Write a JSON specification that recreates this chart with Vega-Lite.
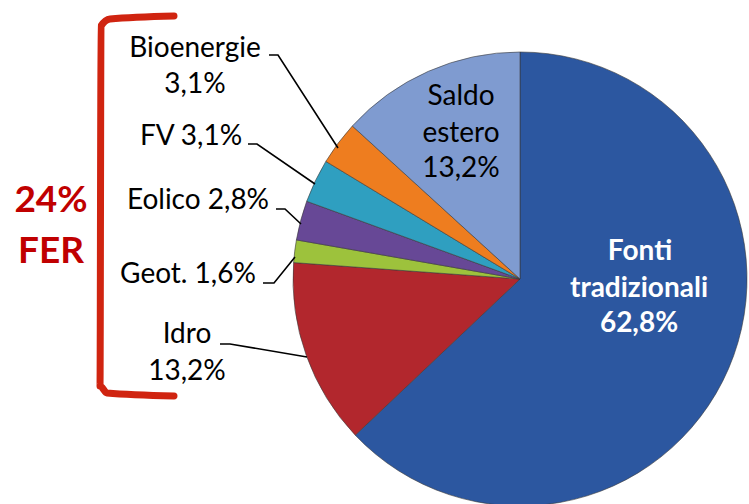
{
  "$schema": "https://vega.github.io/schema/vega-lite/v6.json",
  "width": 749,
  "height": 504,
  "padding": 0,
  "autosize": {"type": "none"},
  "background": "white",
  "config": {"view": {"stroke": null}, "font": "Lato"},
  "datasets": {
    "slices": [
      {"name": "Fonti tradizionali", "value": 62.8, "ord": 1},
      {"name": "Idro", "value": 13.2, "ord": 2},
      {"name": "Geot.", "value": 1.6, "ord": 3},
      {"name": "Eolico", "value": 2.8, "ord": 4},
      {"name": "FV", "value": 3.1, "ord": 5},
      {"name": "Bioenergie", "value": 3.1, "ord": 6},
      {"name": "Saldo estero", "value": 13.2, "ord": 7}
    ],
    "leaders": [
      {"id": "Bioenergie", "seq": 1, "x": 269, "y": 55},
      {"id": "Bioenergie", "seq": 2, "x": 278, "y": 55},
      {"id": "Bioenergie", "seq": 3, "x": 338, "y": 148},
      {"id": "FV", "seq": 1, "x": 248, "y": 144},
      {"id": "FV", "seq": 2, "x": 257, "y": 144},
      {"id": "FV", "seq": 3, "x": 315, "y": 184},
      {"id": "Eolico", "seq": 1, "x": 276, "y": 209},
      {"id": "Eolico", "seq": 2, "x": 285, "y": 209},
      {"id": "Eolico", "seq": 3, "x": 301, "y": 224},
      {"id": "Geot", "seq": 1, "x": 263, "y": 283},
      {"id": "Geot", "seq": 2, "x": 274, "y": 283},
      {"id": "Geot", "seq": 3, "x": 295, "y": 257},
      {"id": "Idro", "seq": 1, "x": 220, "y": 344},
      {"id": "Idro", "seq": 2, "x": 230, "y": 344},
      {"id": "Idro", "seq": 3, "x": 307, "y": 357}
    ],
    "bracket": [
      {"seq": 1, "x": 174, "y": 16},
      {"seq": 2, "x": 110, "y": 19},
      {"seq": 3, "x": 101, "y": 26},
      {"seq": 4, "x": 100, "y": 386},
      {"seq": 5, "x": 107, "y": 393},
      {"seq": 6, "x": 174, "y": 396}
    ],
    "blackText": [
      {"t": "Bioenergie", "x": 195, "y": 57},
      {"t": "3,1%", "x": 195, "y": 93},
      {"t": "FV 3,1%", "x": 191, "y": 145},
      {"t": "Eolico 2,8%", "x": 198, "y": 209},
      {"t": "Geot. 1,6%", "x": 188, "y": 283},
      {"t": "Idro", "x": 187, "y": 343},
      {"t": "13,2%", "x": 187, "y": 380},
      {"t": "Saldo", "x": 461, "y": 105},
      {"t": "estero", "x": 461, "y": 142},
      {"t": "13,2%", "x": 461, "y": 177}
    ],
    "whiteText": [
      {"t": "Fonti", "x": 640, "y": 260},
      {"t": "tradizionali", "x": 639, "y": 297},
      {"t": "62,8%", "x": 639, "y": 332}
    ],
    "redText": [
      {"t": "24%", "x": 51, "y": 212},
      {"t": "FER", "x": 51, "y": 263}
    ]
  },
  "layer": [
    {
      "data": {"name": "slices"},
      "mark": {"type": "arc", "outerRadius": 227, "stroke": "#3a3a3a", "strokeWidth": 1, "strokeOpacity": 0.6},
      "encoding": {
        "x": {"datum": 520, "type": "quantitative", "scale": {"domain": [0, 749], "nice": false, "zero": false}, "axis": null},
        "y": {"datum": 279, "type": "quantitative", "scale": {"domain": [0, 504], "nice": false, "zero": false, "reverse": true}, "axis": null},
        "theta": {"field": "value", "type": "quantitative", "stack": true},
        "order": {"field": "ord", "type": "quantitative"},
        "color": {
          "field": "name",
          "type": "nominal",
          "legend": null,
          "scale": {
            "domain": ["Fonti tradizionali", "Idro", "Geot.", "Eolico", "FV", "Bioenergie", "Saldo estero"],
            "range": ["#2c57a0", "#b2272d", "#9dc23c", "#674896", "#2f9fc0", "#ee7d1f", "#7f9bd0"]
          }
        }
      }
    },
    {
      "data": {"name": "leaders"},
      "mark": {"type": "line", "color": "black", "strokeWidth": 1.6},
      "encoding": {
        "x": {"field": "x", "type": "quantitative"},
        "y": {"field": "y", "type": "quantitative"},
        "detail": {"field": "id"},
        "order": {"field": "seq", "type": "quantitative"}
      }
    },
    {
      "data": {"name": "bracket"},
      "mark": {"type": "line", "color": "#d02410", "strokeWidth": 7, "strokeCap": "round", "strokeJoin": "round", "interpolate": "monotone"},
      "encoding": {
        "x": {"field": "x", "type": "quantitative"},
        "y": {"field": "y", "type": "quantitative"},
        "order": {"field": "seq", "type": "quantitative"}
      }
    },
    {
      "data": {"name": "blackText"},
      "mark": {"type": "text", "font": "Lato", "fontSize": 28, "color": "black", "align": "center", "baseline": "alphabetic"},
      "encoding": {
        "x": {"field": "x", "type": "quantitative"},
        "y": {"field": "y", "type": "quantitative"},
        "text": {"field": "t"}
      }
    },
    {
      "data": {"name": "whiteText"},
      "mark": {"type": "text", "font": "Lato", "fontSize": 28, "fontWeight": "bold", "color": "white", "align": "center", "baseline": "alphabetic"},
      "encoding": {
        "x": {"field": "x", "type": "quantitative"},
        "y": {"field": "y", "type": "quantitative"},
        "text": {"field": "t"}
      }
    },
    {
      "data": {"name": "redText"},
      "mark": {"type": "text", "font": "Lato", "fontSize": 37, "fontWeight": "bold", "color": "#c00000", "align": "center", "baseline": "alphabetic"},
      "encoding": {
        "x": {"field": "x", "type": "quantitative"},
        "y": {"field": "y", "type": "quantitative"},
        "text": {"field": "t"}
      }
    }
  ]
}
